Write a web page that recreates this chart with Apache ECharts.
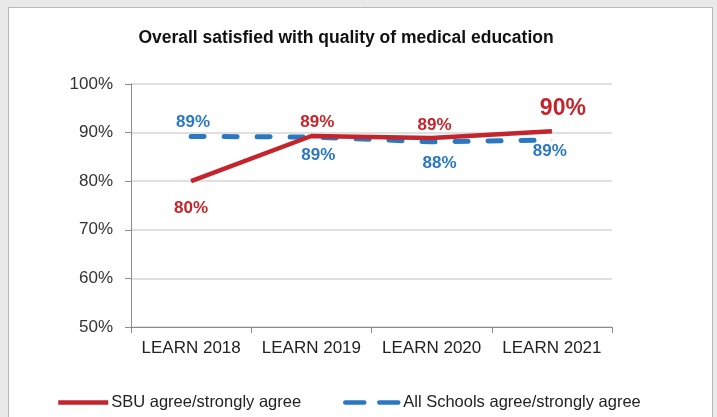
<!DOCTYPE html>
<html><head><meta charset="utf-8">
<script src="https://cdn.jsdelivr.net/npm/echarts@6/dist/echarts.min.js"></script>
<style>html,body{margin:0;padding:0;background:#e9e9e9;}#c{width:717px;height:417px;}</style>
</head><body><div id="c"></div>
<script>
const categories = ['LEARN 2018', 'LEARN 2019', 'LEARN 2020', 'LEARN 2021'];
const sbuValues = [80, 89.3, 88.9, 90.3];
const allSchoolsValues = [89.2, 89.1, 88.1, 88.5];
const yTicks = [50, 60, 70, 80, 90, 100];
const seriesNames = ['SBU agree/strongly agree', 'All Schools agree/strongly agree'];
const title = 'Overall satisfied with quality of medical education';

const RED = '#c4242b', BLUE = '#2a78c2';
const FONT = '"Liberation Sans", Arial, sans-serif';
const sbuLabelOffsets = [[0, 27], [6, -14], [3, -13], [11, -22]];
const sbuLabelSizes = [17, 17, 17, 23];
const allLabelOffsets = [[2, -14], [7, 18], [8, 21], [-2, 11]];

function mkData(vals, offsets, sizes, color) {
  return vals.map((v, i) => ({
    value: v,
    label: { show: true, position: 'inside', offset: offsets[i], color: color,
      fontWeight: 'bold', fontSize: sizes ? sizes[i] : 17, fontFamily: FONT,
      formatter: () => Math.round(v) + '%' }
  }));
}

const chart = echarts.init(document.getElementById('c'));
chart.setOption({
  animation: false,
  backgroundColor: '#e9e9e9',
  graphic: [{ type: 'rect', left: 8, top: 7, z: -10,
    shape: { width: 704, height: 420 },
    style: { fill: '#ffffff', stroke: '#b8b8b8', lineWidth: 1 } }],
  title: { text: title, left: 341, top: 24, textAlign: 'center',
    textStyle: { fontFamily: FONT, fontWeight: 'bold', fontSize: 17.5, color: '#111' } },
  grid: { left: 131, right: 105, top: 84, bottom: 90 },
  xAxis: { type: 'category', data: categories, boundaryGap: true,
    axisLine: { lineStyle: { color: '#8c8c8c', width: 1 } },
    axisTick: { show: true, length: 6, lineStyle: { color: '#8c8c8c' } },
    axisLabel: { interval: 0, fontFamily: FONT, fontSize: 17, color: '#222', margin: 13 } },
  yAxis: { type: 'value', min: 50, max: 100, interval: 10,
    axisLine: { show: true, lineStyle: { color: '#8c8c8c' } },
    axisTick: { show: true, length: 6, lineStyle: { color: '#8c8c8c' } },
    splitLine: { lineStyle: { color: '#d6d6d6', width: 1.5 } },
    axisLabel: { fontFamily: FONT, fontSize: 17, color: '#333', margin: 18,
      formatter: v => yTicks.includes(v) ? v + '%' : '' } },
  legend: [
    { data: [seriesNames[0]], left: 51, top: 389, itemWidth: 50, itemHeight: 12,
      itemStyle: { opacity: 0 }, lineStyle: { width: 4.5 },
      textStyle: { fontFamily: FONT, fontSize: 16.5, color: '#222', padding: [0,0,0,-2] } },
    { data: [seriesNames[1]], left: 338, top: 389, itemWidth: 53, itemHeight: 12,
      itemStyle: { opacity: 0 }, lineStyle: { width: 4.5, type: [19, 15] },
      textStyle: { fontFamily: FONT, fontSize: 16.5, color: '#222', padding: [0,0,0,0] } }
  ],
  series: [
    { name: seriesNames[1], type: 'line', data: mkData(allSchoolsValues, allLabelOffsets, null, BLUE),
      symbol: 'circle', symbolSize: 1, color: BLUE, z: 2,
      lineStyle: { color: BLUE, width: 5, type: [13, 20], cap: 'round' }, itemStyle: { color: BLUE } },
    { name: seriesNames[0], type: 'line', data: mkData(sbuValues, sbuLabelOffsets, sbuLabelSizes, RED),
      symbol: 'circle', symbolSize: 1, color: RED, z: 3,
      lineStyle: { color: RED, width: 4.5 }, itemStyle: { color: RED } }
  ]
});
</script></body></html>
